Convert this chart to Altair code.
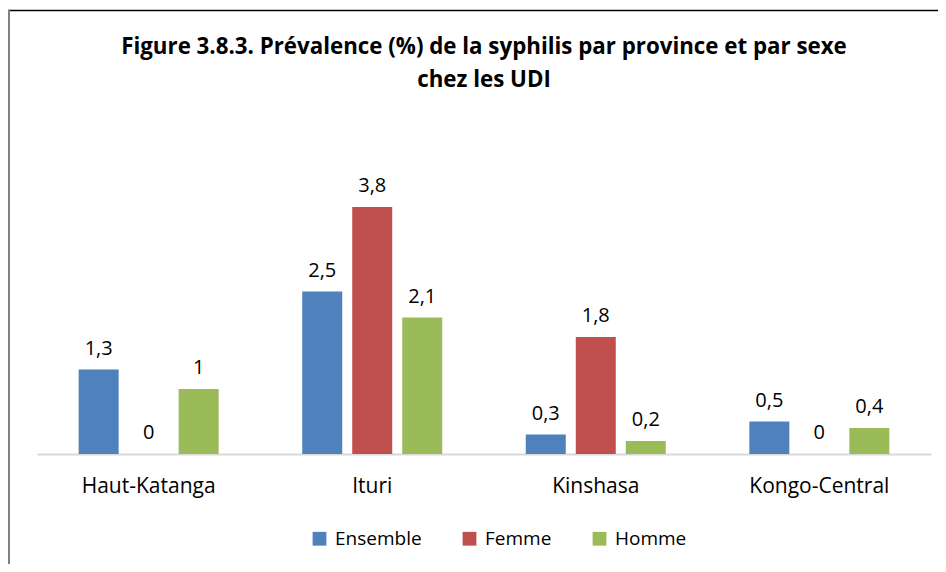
import altair as alt
import pandas as pd

provinces = ["Haut-Katanga", "Ituri", "Kinshasa", "Kongo-Central"]
series = ["Ensemble", "Femme", "Homme"]
ensemble = [1.3, 2.5, 0.3, 0.5]
femme = [0.0, 3.8, 1.8, 0.0]
homme = [1.0, 2.1, 0.2, 0.4]
colors = ["#4f81bd", "#c0504d", "#9bbb59"]
title_lines = ["Figure 3.8.3. Prévalence (%) de la syphilis par province et par sexe",
               "chez les UDI"]

rows = []
for s, vals in zip(series, [ensemble, femme, homme]):
    for p, v in zip(provinces, vals):
        rows.append({"province": p, "sexe": s, "valeur": v,
                     "label": (f"{v:g}").replace(".", ",")})
df = pd.DataFrame(rows)

FONT = "Open Sans"
TFONT = "Open Sans"

x = alt.X("province:N", sort=provinces, title=None,
          scale=alt.Scale(paddingInner=0.329, paddingOuter=0.164),
          axis=alt.Axis(labelAngle=0, ticks=False, domainColor="#d9d9d9",
                        domainWidth=2, labelFontSize=21, labelColor="#000000",
                        labelFont=FONT, labelPadding=21))
xo = alt.XOffset("sexe:N", sort=series,
                 scale=alt.Scale(paddingInner=0.2, paddingOuter=0.1))
y = alt.Y("valeur:Q", scale=alt.Scale(domain=[0, 5]), axis=None)

base = alt.Chart(df)
bars = base.mark_bar().encode(
    x=x, xOffset=xo, y=y,
    color=alt.Color("sexe:N", sort=series,
                    scale=alt.Scale(domain=series, range=colors),
                    legend=alt.Legend(title=None, orient="none", direction="horizontal",
                                      legendX=273, legendY=400,
                                      symbolType="square", symbolSize=190,
                                      symbolStrokeWidth=0,
                                      labelFontSize=19, labelFont=FONT,
                                      labelColor="#000000", columnPadding=38,
                                      symbolOffset=0, labelOffset=6)),
)
texts = base.mark_text(baseline="bottom", dy=-11, fontSize=20, font=FONT,
                       color="#000000").encode(
    x=x, xOffset=xo, y=y, text="label:N")

one = pd.DataFrame({"a": [0]})
title1 = alt.Chart(one).mark_text(fontSize=22.3, font=TFONT, fontWeight="bold",
                                  color="#000000", baseline="middle").encode(
    x=alt.value(447), y=alt.value(-82), text=alt.value(title_lines[0]))
title2 = alt.Chart(one).mark_text(fontSize=22.3, font=TFONT, fontWeight="bold",
                                  color="#000000", baseline="middle").encode(
    x=alt.value(447), y=alt.value(-49), text=alt.value(title_lines[1]))

frame_top = alt.Chart(one).mark_rule(
    color="#000000", strokeWidth=1.5).encode(
    x=alt.value(-29), x2=alt.value(920), y=alt.value(-118.5))
frame_left = alt.Chart(one).mark_rule(
    color="#808080", strokeWidth=2).encode(
    x=alt.value(-28), y=alt.value(-119), y2=alt.value(440))

chart = alt.layer(bars, texts, title1, title2, frame_top, frame_left).properties(
    width=894, height=325,
    background="white",
    autosize=alt.AutoSizeParams(type="none"),
    padding={"left": 29, "top": 121, "right": 7, "bottom": 110},
).configure_view(strokeWidth=0, stroke="transparent")

chart.save("out.html", embed_options={"renderer": "svg", "actions": False})
